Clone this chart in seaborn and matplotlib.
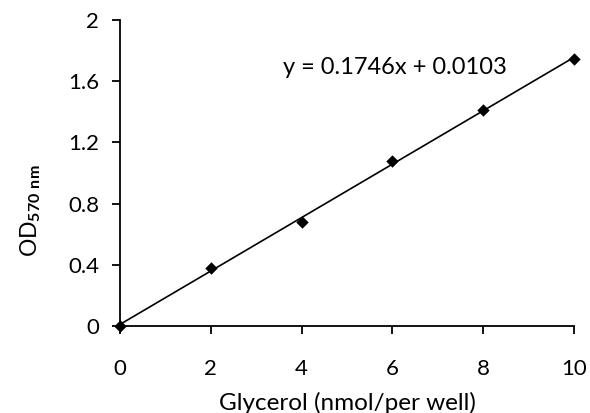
import matplotlib
matplotlib.use("Agg")
import matplotlib.pyplot as plt
import seaborn as sns
import numpy as np
import pandas as pd

glycerol = [0, 2, 4, 6, 8, 10]
od570 = [0.0, 0.377, 0.68, 1.08, 1.41, 1.745]
slope = 0.1746
intercept = 0.0103
x_ticks = [0, 2, 4, 6, 8, 10]
y_ticks = [0, 0.4, 0.8, 1.2, 1.6, 2]
y_tick_labels = ["0", "0.4", "0.8", "1.2", "1.6", "2"]

sns.set_theme(style="ticks")
plt.rcParams['font.family'] = ['Lato', 'DejaVu Sans']
plt.rcParams['mathtext.fontset'] = 'custom'
plt.rcParams['mathtext.rm'] = 'Lato'
plt.rcParams['mathtext.bf'] = 'Lato:bold'

fig = plt.figure(figsize=(5.9, 4.13), dpi=100)
ax = fig.add_axes([0.2034, 0.2107, 0.973 - 0.2034, 0.9516 - 0.2107])

df = pd.DataFrame({"x": glycerol, "y": od570})
fit = pd.DataFrame({"x": [glycerol[0], glycerol[-1]]})
fit["y"] = slope * fit["x"] + intercept

sns.lineplot(data=fit, x="x", y="y", ax=ax, color="black", linewidth=1.2)
sns.scatterplot(data=df, x="x", y="y", ax=ax, marker="D", color="black",
                s=40, edgecolor="black", linewidth=0, zorder=5, clip_on=False)

ax.set_xlim(0, 10)
ax.set_ylim(0, 2)
ax.set_xticks(x_ticks)
ax.set_xticklabels([str(t) for t in x_ticks])
ax.set_yticks(y_ticks)
ax.set_yticklabels(y_tick_labels)
for s in ["top", "right"]:
    ax.spines[s].set_visible(False)
for s in ["left", "bottom"]:
    ax.spines[s].set_color("black")
    ax.spines[s].set_linewidth(1.3)
ax.tick_params(axis="both", colors="black", labelsize=16, length=6, width=1.3, direction="out")
ax.tick_params(axis="x", pad=18)
ax.tick_params(axis="y", pad=9)

ax.set_xlabel("Glycerol (nmol/per well)", fontsize=17.5, color="black")
ax.xaxis.set_label_coords(0.5, -0.215)
ax.set_ylabel(r"OD$_{\mathbf{570\ nm}}$", fontsize=16.5, color="black")
ax.yaxis.set_label_coords(-0.17, 0.376)

ax.text(3.59, 1.69, "y = 0.1746x + 0.0103", fontsize=17, color="black",
        ha="left", va="center")

fig.savefig("out.png", dpi=100)
